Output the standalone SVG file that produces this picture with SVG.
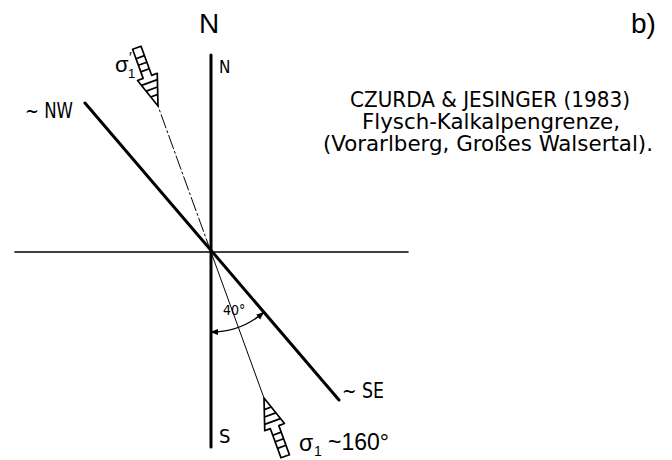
<svg xmlns="http://www.w3.org/2000/svg" width="672" height="460" viewBox="0 0 672 460">
<style>
.t{font-family:"DejaVu Sans Condensed","Liberation Sans",sans-serif;fill:#000}
.big{font-family:"Liberation Sans","DejaVu Sans",sans-serif;fill:#000}
.ln{stroke:#000;fill:none;stroke-linecap:round}
.arr{fill:#fff;stroke:#000;stroke-width:1.7;stroke-linejoin:round}
.bar{stroke:#000;stroke-width:1.7}
</style>
<defs>
<marker id="ah" viewBox="0 0 10 10" refX="9" refY="5" markerWidth="8" markerHeight="8" markerUnits="userSpaceOnUse" orient="auto-start-reverse">
<path d="M0,1 L10,5 L0,9 Z" fill="#000"/>
</marker>
<g id="hatch">
<polygon class="arr" points="0,0 10.5,31 4.5,31 4.5,62 -4.5,62 -4.5,31 -10.5,31"/>
<line class="bar" x1="-3.7" y1="11" x2="3.7" y2="11"/>
<line class="bar" x1="-6" y1="18" x2="6" y2="18"/>
<line class="bar" x1="-8.4" y1="25" x2="8.4" y2="25"/>
<line class="bar" x1="-4.5" y1="38" x2="4.5" y2="38"/>
<line class="bar" x1="-4.5" y1="45" x2="4.5" y2="45"/>
<line class="bar" x1="-4.5" y1="52" x2="4.5" y2="52"/>
</g>
</defs>
<g id="connectors">
<line class="ln" x1="15" y1="252" x2="408" y2="252" stroke-width="1.6"/>
<line class="ln" x1="211" y1="55" x2="211" y2="447" stroke-width="3"/>
<line class="ln" x1="85" y1="103" x2="339" y2="400" stroke-width="3"/>
<line class="ln" x1="211" y1="252" x2="158" y2="106" stroke-width="1" stroke-dasharray="14 3 2 3"/>
<line class="ln" x1="211" y1="252" x2="264" y2="398" stroke-width="1"/>
<path class="ln" d="M211,332 A80,80 0 0 0 263.5,312.4" stroke-width="1.4" marker-start="url(#ah)" marker-end="url(#ah)"/>
</g>
<g id="sigma1prime">
<use href="#hatch" transform="translate(158,106) rotate(160)"/>
<text class="big" x="115" y="72" font-size="22">σ</text>
<text class="big" x="128" y="78" font-size="13">1</text>
<text class="big" x="129" y="62" font-size="15">′</text>
</g>
<g id="sigma1">
<use href="#hatch" transform="translate(264,398) rotate(-20)"/>
<text class="big" x="299" y="451" font-size="23">σ</text>
<text class="big" x="314" y="456" font-size="14">1</text>
<text class="big" x="328" y="450" font-size="23">~160°</text>
</g>
<g id="labels">
<text class="big" x="209" y="33" font-size="28" text-anchor="middle">N</text>
<text class="t" x="219" y="73" font-size="17">N</text>
<text class="t" x="219" y="443" font-size="20">S</text>
<text class="t" x="25" y="118" font-size="21" textLength="48" lengthAdjust="spacingAndGlyphs">~ NW</text>
<text class="t" x="342" y="398" font-size="21" textLength="42" lengthAdjust="spacingAndGlyphs">~ SE</text>
<text class="t" x="223" y="315" font-size="14">40°</text>
<text class="big" x="631" y="33" font-size="28">b)</text>
</g>
<g id="title">
<text class="t" x="350" y="107" font-size="21" textLength="280" lengthAdjust="spacingAndGlyphs">CZURDA &amp; JESINGER (1983)</text>
<text class="t" x="362" y="129" font-size="21" textLength="258" lengthAdjust="spacingAndGlyphs">Flysch-Kalkalpengrenze,</text>
<text class="t" x="323" y="151" font-size="21" textLength="330" lengthAdjust="spacingAndGlyphs">(Vorarlberg, Großes Walsertal).</text>
</g>
</svg>
